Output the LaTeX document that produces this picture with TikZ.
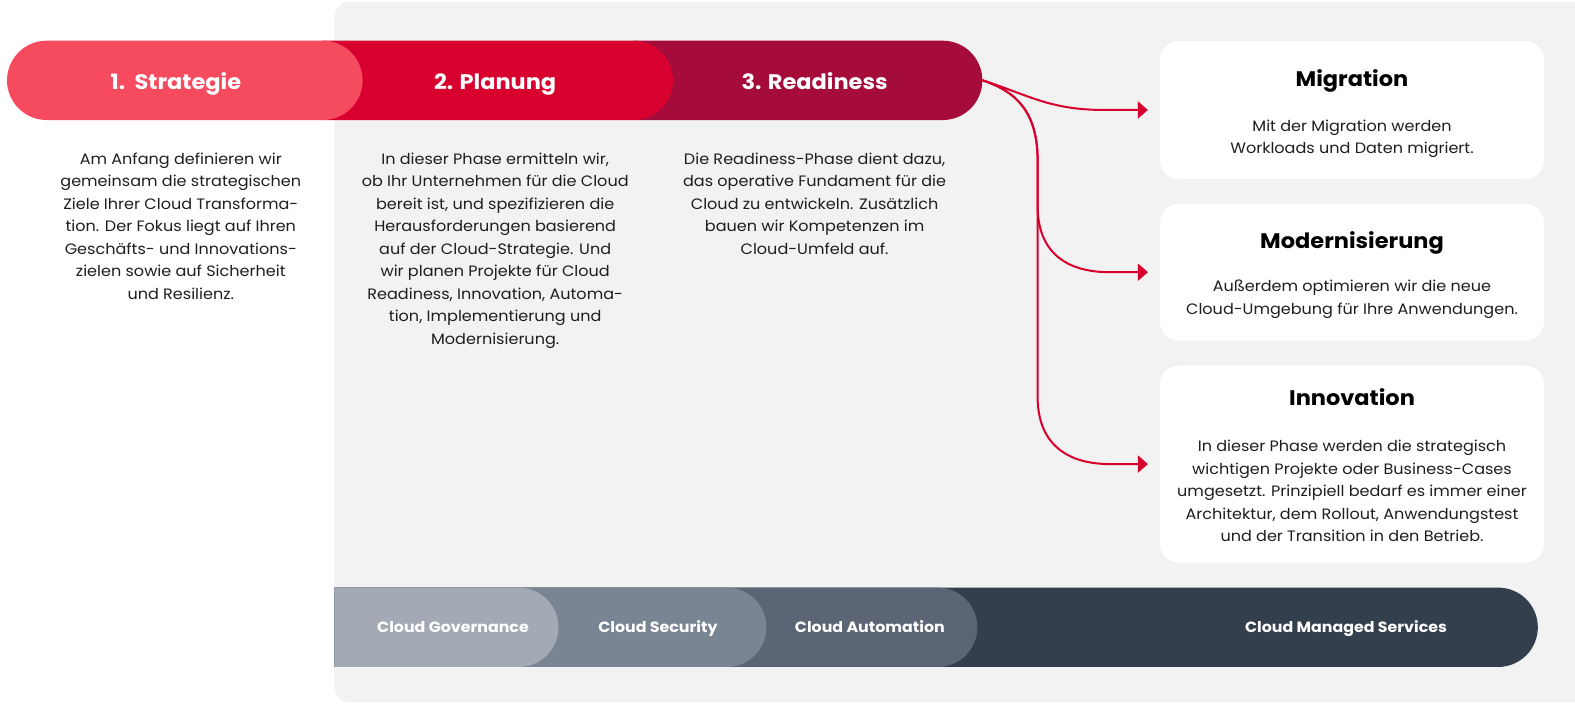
\documentclass[tikz,border=0pt]{standalone}
\usepackage{fontspec}
\setmainfont{Poppins}[FakeStretch=1.065]
\usetikzlibrary{shapes.misc,arrows.meta,positioning}
\definecolor{panel}{HTML}{F2F2F2}
\definecolor{strategie}{HTML}{F64A5E}
\definecolor{planung}{HTML}{D7002E}
\definecolor{readiness}{HTML}{A50C3C}
\definecolor{governance}{HTML}{A3AAB5}
\definecolor{security}{HTML}{7A8594}
\definecolor{automation}{HTML}{5B6575}
\definecolor{managed}{HTML}{343F4E}
\definecolor{bodytext}{HTML}{1E1E1E}
\begin{document}
\begin{tikzpicture}[x=1pt, y=-1pt, line join=round, line cap=round,
	pill/.style={rounded rectangle, minimum height=79pt, inner sep=0pt},
	halfpill/.style={pill, rounded rectangle left arc=none},
	phase/.style={text=white, inner sep=0pt, anchor=base, font=\fontsize{21}{25}\selectfont\bfseries},
	desc/.style={anchor=north, align=center, inner sep=0pt, text=bodytext, font=\fontsize{15}{22.4}\selectfont},
	card/.style={fill=white, rounded corners=18pt, minimum width=382pt, inner sep=0pt},
	cardhead/.style={inner sep=0pt, anchor=base, font=\fontsize{21}{25}\selectfont\bfseries},
	cardtext/.style={align=center, inner sep=0pt, text=bodytext, font=\fontsize{15}{22.4}\selectfont},
	service/.style={text=white, inner sep=0pt, anchor=base, font=\fontsize{14.8}{17}\selectfont\bfseries},
	flow/.style={draw=planung, line width=2pt, -{Triangle[length=10pt,width=17pt]}}]
	\useasboundingbox (0,0) rectangle (1568,700);
	\fill[panel, rounded corners=14pt] (333,2) rectangle (1620,699);
	\node[halfpill, fill=readiness, minimum width=347pt] (readiness) at (804.5,80) {};
	\node[halfpill, fill=planung, minimum width=349pt] (planung) at (495.5,80) {};
	\node[pill, fill=strategie, minimum width=354pt] (strategie) at (184,80) {};
	\node[phase] (strategie-label) at (175,89) {1.\ \ Strategie};
	\node[phase] (planung-label) at (493,89) {2. Planung};
	\node[phase] (readiness-label) at (811,89) {3. Readiness};
	\node[desc] (strategie-text) at (180,152) {Am Anfang definieren wir\\gemeinsam die strategischen\\Ziele Ihrer Cloud Transforma-\\tion. Der Fokus liegt auf Ihren\\Geschäfts- und Innovations-\\zielen sowie auf Sicherheit\\und Resilienz.};
	\node[desc] (planung-text) at (493,152) {In dieser Phase ermitteln wir,\\ob Ihr Unternehmen für die Cloud\\bereit ist, und spezifizieren die\\Herausforderungen basierend\\auf der Cloud-Strategie. Und\\wir planen Projekte für Cloud\\Readiness, Innovation, Automa-\\tion, Implementierung und\\Modernisierung.};
	\node[desc] (readiness-text) at (811,152) {Die Readiness-Phase dient dazu,\\das operative Fundament für die\\Cloud zu entwickeln. Zusätzlich\\bauen wir Kompetenzen im\\Cloud-Umfeld auf.};
	\node[card, minimum height=137pt] (migration) at (1346,109.5) {};
	\node[card, minimum height=136pt] (modern) at (1346,271) {};
	\node[card, minimum height=196pt] (innovation) at (1346,462) {};
	\node[cardhead] (migration-head) at (1346,86) {Migration};
	\node[cardhead] (modern-head) at (1346,247) {Modernisierung};
	\node[cardhead] (innovation-head) at (1346,404) {Innovation};
	\node[cardtext] (migration-text) at (1346,138) {Mit der Migration werden\\Workloads und Daten migriert.};
	\node[cardtext] (modern-text) at (1346,298) {Außerdem optimieren wir die neue\\Cloud-Umgebung für Ihre Anwendungen.};
	\node[cardtext] (innovation-text) at (1346,489) {In dieser Phase werden die strategisch\\wichtigen Projekte oder Business-Cases\\umgesetzt. Prinzipiell bedarf es immer einer\\Architektur, dem Rollout, Anwendungstest\\und der Transition in den Betrieb.};
	\draw[flow] (readiness.east) .. controls (1025,95) and (1045,109.5) .. (1100,109.5) -- ([xshift=-12pt]migration.west);
	\draw[flow] (readiness.east) .. controls (1015,92) and (1033,115) .. (1033,160) -- (1033,205) .. controls (1033,250) and (1060,271) .. (1105,271) -- ([xshift=-12pt]modern.west);
	\draw[flow] (readiness.east) .. controls (1015,92) and (1033,115) .. (1033,160) -- (1033,395) .. controls (1033,440) and (1060,462) .. (1105,462) -- ([xshift=-12pt]innovation.west);
	\foreach \n/\w/\lx/\t in {managed/1198/1340/Cloud Managed Services, automation/640/866/Cloud Automation, security/430/655/Cloud Security, governance/223/451/Cloud Governance}{
		\node[halfpill, fill=\n, minimum width=\w pt] (\n) at (333+\w/2,624.5) {};
		\node[service] (\n-label) at (\lx,629.5) {\t};
	}
\end{tikzpicture}
\end{document}
